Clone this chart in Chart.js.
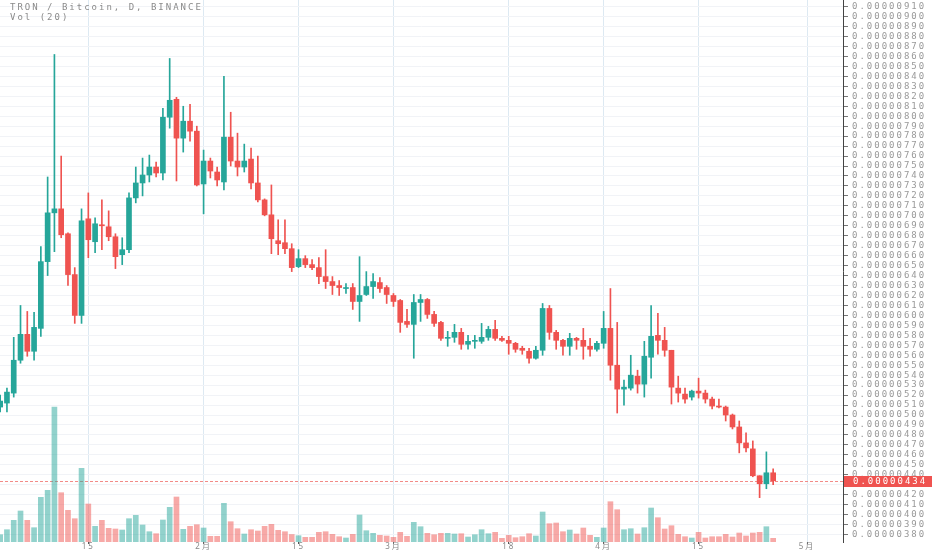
<!DOCTYPE html>
<html>
<head>
<meta charset="utf-8">
<title>TRON / Bitcoin, D, BINANCE</title>
<script src="https://cdn.jsdelivr.net/npm/chart.js@4.4.1/dist/chart.umd.min.js"></script>
<style>
  html, body { margin: 0; padding: 0; background: #fff; }
  #chart { display: block; }
</style>
</head>
<body>
<canvas id="chart" width="932" height="550"></canvas>
<script>
// daily candles from 2018-01-02, prices in satoshi (1e-8 BTC)
const firstDay = 1; // days counted from 2018-01-01
const open = [508,512,522,555,581,564,587,654,703,707,682,641,600,697,674,691,689,679,661,666,718,733,741,749,743,799,817,778,795,785,732,755,744,734,779,755,749,757,733,716,701,675,673,667,649,657,651,648,639,634,630,627,628,614,621,629,633,628,620,615,594,591,613,616,601,593,577,578,583,571,574,574,578,586,577,575,572,567,564,557,565,607,583,575,569,577,575,569,566,572,587,550,526,527,539,531,558,580,575,565,527,521,518,524,522,516,509,508,500,488,472,466,439,431,442];
const high = [520,527,578,610,604,603,669,739,862,760,683,648,707,723,698,716,705,682,678,723,749,758,761,754,808,858,819,810,812,790,766,758,749,840,804,783,772,768,760,717,731,696,696,672,666,660,656,658,666,639,635,632,632,659,644,642,638,630,622,616,606,621,621,617,604,594,584,591,587,580,580,592,589,595,579,579,573,569,567,569,612,610,585,576,582,578,587,577,574,604,627,593,535,560,545,574,610,602,588,565,539,527,525,537,525,518,516,509,501,494,482,474,439,463,446];
const low = [503,503,518,552,559,555,579,640,664,678,630,592,592,658,663,666,675,647,651,663,713,720,734,739,736,788,735,764,775,730,702,738,730,726,750,740,744,727,714,700,662,661,662,644,648,648,646,632,627,621,620,622,606,594,620,617,623,612,609,583,588,557,594,597,589,575,569,573,566,566,567,572,575,575,574,561,563,561,552,556,560,576,566,560,560,566,556,559,564,567,535,502,510,525,522,518,537,561,559,511,513,512,515,517,512,506,507,494,486,462,463,438,417,426,430];
const close = [514,523,555,581,564,588,654,703,707,681,641,600,695,676,692,690,679,659,666,718,733,741,749,743,799,816,778,795,785,731,755,745,736,779,755,749,755,733,716,701,677,672,667,648,657,651,648,639,634,630,628,628,614,620,629,634,627,621,614,593,591,613,616,601,592,577,578,583,571,574,575,578,586,577,575,572,566,565,557,565,607,583,575,569,577,575,569,566,572,587,550,526,528,540,531,559,579,575,565,528,522,516,524,522,516,509,508,500,488,472,467,439,431,442,434];
// volume, relative units
const volume = [7.3,12.3,21.7,31,21.7,14.3,44.7,51.7,135,49.3,31.7,23.3,73.7,38,15.7,21.7,13.7,13,12,23.3,26.7,17,10.3,8.3,22,34.7,45,12.7,15.7,17.3,14,5.7,5.7,38.7,20.3,13.3,8,12.3,11,15.7,17.7,11.7,10.3,7.5,6.3,4.7,4.7,9.7,10.3,7.7,5.3,4,7.7,27,11.3,8.7,6.7,6,4.7,9.7,5.7,19.7,15.3,8.7,7.3,8.7,8.7,8,8.3,5,7.3,12.3,8.3,9.7,3.7,6.7,4.3,5.3,8.3,6,30,18.3,19,10.3,12,8,14,6.7,4.7,14,40.3,32.3,12.3,13.3,8,14.3,34,24.3,13,16.3,7.7,5.3,4,9.7,4,5.3,5.3,7.7,5,9,6,9,9.7,15.3,3.7];

const tickDays = [14, 31, 45, 59, 76, 90, 104, 120];
const tickLabels = ['15', '2月', '15', '3月', '18', '4月', '15', '5月'];

const UP = '#26a69a';
const DOWN = '#ef5350';
const MONO = '"DejaVu Sans Mono", monospace';

const days = open.map((_, i) => firstDay + i);
const colors = close.map((c, i) => (c >= open[i] ? UP : DOWN));
const volColors = close.map((c, i) => (c >= open[i] ? 'rgba(38,166,154,0.5)' : 'rgba(239,83,80,0.5)'));

// dashed last-price line, price tag and the header text
const overlay = {
  id: 'overlay',
  beforeDraw(chart) {
    // wide letter spacing like the original axis font
    chart.ctx.letterSpacing = '2px';
  },
  beforeDatasetsDraw(chart) {
    const { ctx, chartArea, scales } = chart;
    const y = Math.round(scales.y.getPixelForValue(close[close.length - 1])) + 0.5;
    ctx.save();
    ctx.strokeStyle = '#f28b88';
    ctx.lineWidth = 1;
    ctx.setLineDash([3, 2]);
    ctx.beginPath();
    ctx.moveTo(chartArea.left, y);
    ctx.lineTo(chartArea.right, y);
    ctx.stroke();
    ctx.restore();
  },
  afterDraw(chart) {
    const { ctx, chartArea, scales } = chart;
    const last = close[close.length - 1];
    const y = Math.round(scales.y.getPixelForValue(last));
    ctx.save();
    ctx.letterSpacing = '2px';
    ctx.fillStyle = DOWN;
    ctx.fillRect(chartArea.right + 1, y - 5, chart.width - chartArea.right, 11);
    ctx.fillStyle = '#fff';
    ctx.font = '9px ' + MONO;
    ctx.textBaseline = 'middle';
    ctx.fillText((last / 1e8).toFixed(8), chartArea.right + 10, y + 1);

    ctx.fillStyle = '#8a8a8a';
    ctx.textBaseline = 'top';
    ctx.fillText('TRON / Bitcoin, D, BINANCE', 10, 3);
    ctx.fillText('Vol (20)', 10, 13);
    ctx.restore();
  }
};

new Chart(document.getElementById('chart'), {
  type: 'bar',
  data: {
    datasets: [
      {
        label: 'Volume',
        data: days.map((d, i) => ({ x: d, y: volume[i] })),
        backgroundColor: volColors,
        yAxisID: 'yv',
        barThickness: 5,
        grouped: false,
        order: 3
      },
      {
        label: 'Wick',
        data: days.map((d, i) => ({ x: d, y: [low[i], high[i]] })),
        backgroundColor: colors,
        yAxisID: 'y',
        barThickness: 1,
        grouped: false,
        order: 2
      },
      {
        label: 'Body',
        data: days.map((d, i) => ({ x: d, y: [open[i], close[i]] })),
        backgroundColor: colors,
        yAxisID: 'y',
        barThickness: 5,
        minBarLength: 1,
        grouped: false,
        order: 1
      }
    ]
  },
  options: {
    responsive: false,
    animation: false,
    layout: { padding: 0 },
    plugins: {
      legend: { display: false },
      tooltip: { enabled: false }
    },
    scales: {
      x: {
        type: 'linear',
        position: 'bottom',
        offset: false,
        min: 0.975,
        max: 125.3,
        afterBuildTicks: (scale) => {
          scale.ticks = tickDays.map((v) => ({ value: v }));
        },
        afterFit: (scale) => {
          scale.height = 8;
        },
        grid: { offset: false, color: '#dde9f2', tickColor: '#555', tickLength: 2 },
        border: { display: false },
        ticks: {
          autoSkip: false,
          maxRotation: 0,
          padding: -2,
          color: '#888',
          font: { size: 8, family: '"Noto Sans", "Noto Sans CJK JP", sans-serif' },
          callback: (v, i) => tickLabels[i]
        }
      },
      y: {
        position: 'right',
        min: 372.5,
        max: 916.7,
        afterBuildTicks: (scale) => {
          const t = [];
          for (let v = 380; v <= 910; v += 10) t.push({ value: v });
          scale.ticks = t;
        },
        afterFit: (scale) => {
          scale.width = 89;
          scale.paddingTop = 0;
          scale.paddingBottom = 0;
        },
        grid: { color: '#f1f3f7', tickColor: '#777', tickLength: 5 },
        border: { color: '#444', width: 1 },
        ticks: {
          autoSkip: false,
          padding: 4,
          color: '#999',
          font: { size: 9, family: MONO },
          callback: (v) => (v / 1e8).toFixed(8)
        }
      },
      yv: {
        display: false,
        min: 0,
        max: 542
      }
    }
  },
  plugins: [overlay]
});
</script>
</body>
</html>
